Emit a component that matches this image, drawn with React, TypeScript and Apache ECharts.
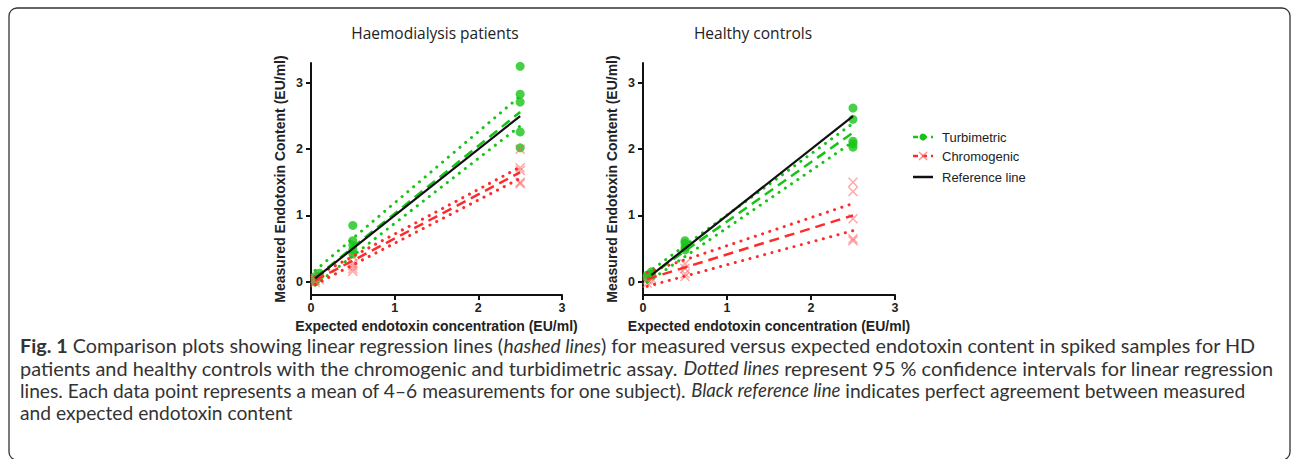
import React, { useEffect, useRef } from "react";
import * as echarts from "echarts";

// ---- data ----
const panelTitles = ["Haemodialysis patients", "Healthy controls"];
const xTicks = [0, 1, 2, 3];
const yTicks = [0, 1, 2, 3];

const hdTurb = [
  [0.05, 0.08], [0.05, 0.03], [0.05, 0.0], [0.1, 0.13], [0.1, 0.08],
  [0.5, 0.85], [0.5, 0.62], [0.5, 0.55], [0.5, 0.48], [0.5, 0.42],
  [2.5, 3.25], [2.5, 2.83], [2.5, 2.71], [2.5, 2.26], [2.5, 2.02],
];
const hdChrom = [
  [0.05, 0.05], [0.05, 0.02], [0.05, -0.01], [0.1, 0.06], [0.1, 0.03],
  [0.5, 0.38], [0.5, 0.28], [0.5, 0.24], [0.5, 0.2], [0.5, 0.16],
  [2.5, 2.0], [2.5, 1.72], [2.5, 1.68], [2.5, 1.5], [2.5, 1.48],
];
const hcTurb = [
  [0.05, 0.1], [0.05, 0.06], [0.1, 0.15], [0.1, 0.12], [0.1, 0.1],
  [0.5, 0.62], [0.5, 0.58], [0.5, 0.52], [0.5, 0.48],
  [2.5, 2.62], [2.5, 2.45], [2.5, 2.12], [2.5, 2.08], [2.5, 2.03],
];
const hcChrom = [
  [0.05, 0.03], [0.05, -0.02], [0.1, 0.05], [0.1, 0.0],
  [0.5, 0.27], [0.5, 0.2], [0.5, 0.12], [0.5, 0.08],
  [2.5, 1.5], [2.5, 1.36], [2.5, 0.95], [2.5, 0.65], [2.5, 0.62],
];

// regression lines and 95% CI bands (end points)
const hdTurbFit = [[0.05, 0.06], [2.5, 2.56]];
const hdTurbUp = [[0.05, 0.17], [2.5, 2.8]];
const hdTurbLo = [[0.05, -0.05], [2.5, 2.35]];
const hdChromFit = [[0.05, 0.02], [2.5, 1.65]];
const hdChromUp = [[0.05, 0.08], [2.5, 1.73]];
const hdChromLo = [[0.05, -0.04], [2.5, 1.56]];
const hdRef = [[0.05, 0.05], [2.5, 2.5]];

const hcTurbFit = [[0.05, 0.06], [2.5, 2.25]];
const hcTurbUp = [[0.05, 0.13], [2.5, 2.39]];
const hcTurbLo = [[0.05, -0.01], [2.5, 2.11]];
const hcChromFit = [[0.05, 0.04], [2.5, 1.0]];
const hcChromUp = [[0.05, 0.14], [2.5, 1.18]];
const hcChromLo = [[0.05, -0.07], [2.5, 0.77]];
const hcRef = [[0.1, 0.1], [2.5, 2.5]];

const legendLabels = ["Turbimetric", "Chromogenic", "Reference line"];

const captionLines = [
  "{b|Fig. 1} Comparison plots showing linear regression lines ({i|hashed lines}) for measured versus expected endotoxin content in spiked samples for HD",
  "patients and healthy controls with the chromogenic and turbidimetric assay. {i|Dotted lines} represent 95 % confidence intervals for linear regression",
  "lines. Each data point represents a mean of 4\u20136 measurements for one subject). {i|Black reference line} indicates perfect agreement between measured",
  "and expected endotoxin content",
];

// ---- styles ----
const GREEN = "#16c416";
const RED = "#ff2b2b";
const RED_X = "rgba(255,100,100,0.7)";
const AXIS_FONT = "Liberation Sans";
const CAP_FONT = "Lato";

function panelSeries(
  i: number,
  turb: number[][],
  chrom: number[][],
  tFit: number[][],
  tUp: number[][],
  tLo: number[][],
  cFit: number[][],
  cUp: number[][],
  cLo: number[][],
  ref: number[][]
) {
  const base = { xAxisIndex: i, yAxisIndex: i, silent: true };
  const line = (data: number[][], color: string, type: any, width: number, z: number, cap = "butt") => ({
    ...base,
    type: "line",
    data,
    symbol: "none",
    showSymbol: false,
    z,
    lineStyle: { color, width, type, cap },
  });
  return [
    {
      ...base,
      type: "scatter",
      data: turb,
      symbol: "circle",
      symbolSize: 9,
      itemStyle: { color: GREEN },
      z: 2,
    },
    {
      ...base,
      type: "scatter",
      data: chrom,
      symbol: "path://M0,0L10,10M10,0L0,10",
      symbolSize: 9,
      itemStyle: { color: "none", borderColor: RED_X, borderWidth: 1.5 },
      z: 3,
    },
    line(tUp, GREEN, [0.1, 7.5], 3, 4, "round"),
    line(tLo, GREEN, [0.1, 7.5], 3, 4, "round"),
    line(tFit, GREEN, [10, 6], 2.5, 5),
    line(cUp, RED, [0.1, 7.5], 3, 4, "round"),
    line(cLo, RED, [0.1, 7.5], 3, 4, "round"),
    line(cFit, RED, [10, 6], 2.5, 5),
    line(ref, "#111", "solid", 2.2, 6),
  ];
}

export default function App() {
  const ref = useRef<HTMLDivElement>(null);
  useEffect(() => {
    if (!ref.current) return;
    const chart = echarts.init(ref.current, null, { renderer: "svg" });

    const grids = [
      { left: 311, top: 63, width: 251, height: 232 },
      { left: 643, top: 63, width: 252, height: 232 },
    ];
    const axisLabel = { fontWeight: "bold", fontSize: 12.5, color: "#222", fontFamily: AXIS_FONT };
    const nameStyle = { fontWeight: "bold", fontSize: 14, color: "#222", fontFamily: AXIS_FONT, lineHeight: 15 };

    const xAxis = grids.map((_, i) => ({
      gridIndex: i,
      type: "value",
      min: 0,
      max: 3,
      interval: 1,
      axisLine: { show: true, onZero: false, lineStyle: { color: "#111", width: 2 } },
      axisTick: { show: true, length: 5, lineStyle: { color: "#111", width: 2 } },
      axisLabel: { ...axisLabel, margin: 6, formatter: (v: number) => (xTicks.includes(v) ? String(v) : "") },
      splitLine: { show: false },
      name: "Expected endotoxin concentration (EU/ml)",
      nameLocation: "middle",
      nameGap: 21,
      nameTextStyle: nameStyle,
    }));
    const yAxis = grids.map((_, i) => ({
      gridIndex: i,
      type: "value",
      min: -0.2,
      max: 3.3,
      axisLine: { show: true, onZero: false, lineStyle: { color: "#111", width: 2 } },
      axisTick: { show: true, length: 5, customValues: yTicks, lineStyle: { color: "#111", width: 2 } },
      axisLabel: { ...axisLabel, margin: 8, customValues: yTicks },
      splitLine: { show: false },
      name: "Measured Endotoxin Content (EU/ml)",
      nameLocation: "middle",
      nameGap: 24,
      nameTextStyle: nameStyle,
    }));

    const legendY = [137, 156, 177];
    const legendGraphics: any[] = [
      { type: "line", shape: { x1: 913, y1: legendY[0], x2: 933, y2: legendY[0] }, style: { stroke: GREEN, lineWidth: 2.5, lineDash: [5, 4] } },
      { type: "circle", shape: { cx: 923, cy: legendY[0], r: 3.5 }, style: { fill: GREEN } },
      { type: "line", shape: { x1: 913, y1: legendY[1], x2: 933, y2: legendY[1] }, style: { stroke: RED, lineWidth: 2.5, lineDash: [5, 4] } },
      { type: "line", shape: { x1: 919, y1: legendY[1] - 4, x2: 927, y2: legendY[1] + 4 }, style: { stroke: RED_X, lineWidth: 1.5 } },
      { type: "line", shape: { x1: 927, y1: legendY[1] - 4, x2: 919, y2: legendY[1] + 4 }, style: { stroke: RED_X, lineWidth: 1.5 } },
      { type: "line", shape: { x1: 913, y1: legendY[2], x2: 933, y2: legendY[2] }, style: { stroke: "#111", lineWidth: 2.5 } },
      ...legendLabels.map((t, k) => ({
        type: "text",
        x: 942,
        y: legendY[k],
        style: { text: t, fontSize: 13, fontFamily: AXIS_FONT, fill: "#222", verticalAlign: "middle" },
      })),
    ];

    const captionY = [345, 367.5, 390, 412.5];
    const captionSize = [19.8, 19.9, 19.2, 19.2];
    const captionGraphics = captionLines.map((t, k) => ({
      type: "text",
      x: 20,
      y: captionY[k],
      style: {
        text: t,
        fontSize: captionSize[k],
        lineHeight: 21,
        fontFamily: CAP_FONT,
        fill: "#333",
        verticalAlign: "middle",
        rich: {
          b: { fontWeight: "bold", fontSize: captionSize[k], lineHeight: 21, fontFamily: CAP_FONT, fill: "#333", color: "#333" },
          i: { fontStyle: "italic", fontSize: captionSize[k] - 0.6, lineHeight: 21, fontFamily: CAP_FONT, fill: "#333", color: "#333" },
        },
      },
    }));

    const titleX = [435, 753];
    const titleGraphics = panelTitles.map((t, k) => ({
      type: "text",
      x: titleX[k],
      y: 33,
      style: { text: t, fontSize: 15.5, fontFamily: "Open Sans", fill: "#222", align: "center", verticalAlign: "middle" },
    }));

    chart.setOption({
      animation: false,
      backgroundColor: "#fff",
      grid: grids,
      xAxis,
      yAxis,
      series: [
        ...panelSeries(0, hdTurb, hdChrom, hdTurbFit, hdTurbUp, hdTurbLo, hdChromFit, hdChromUp, hdChromLo, hdRef),
        ...panelSeries(1, hcTurb, hcChrom, hcTurbFit, hcTurbUp, hcTurbLo, hcChromFit, hcChromUp, hcChromLo, hcRef),
      ],
      graphic: [
        {
          type: "rect",
          shape: { x: 9, y: 8, width: 1281, height: 452, r: 8 },
          style: { fill: "none", stroke: "#333", lineWidth: 1.3 },
          silent: true,
        },
        ...titleGraphics,
        ...legendGraphics,
        ...captionGraphics,
      ],
    });
    return () => chart.dispose();
  }, []);
  return <div ref={ref} style={{ position: "fixed", left: 0, top: 0, width: 1292, height: 459 }} />;
}
